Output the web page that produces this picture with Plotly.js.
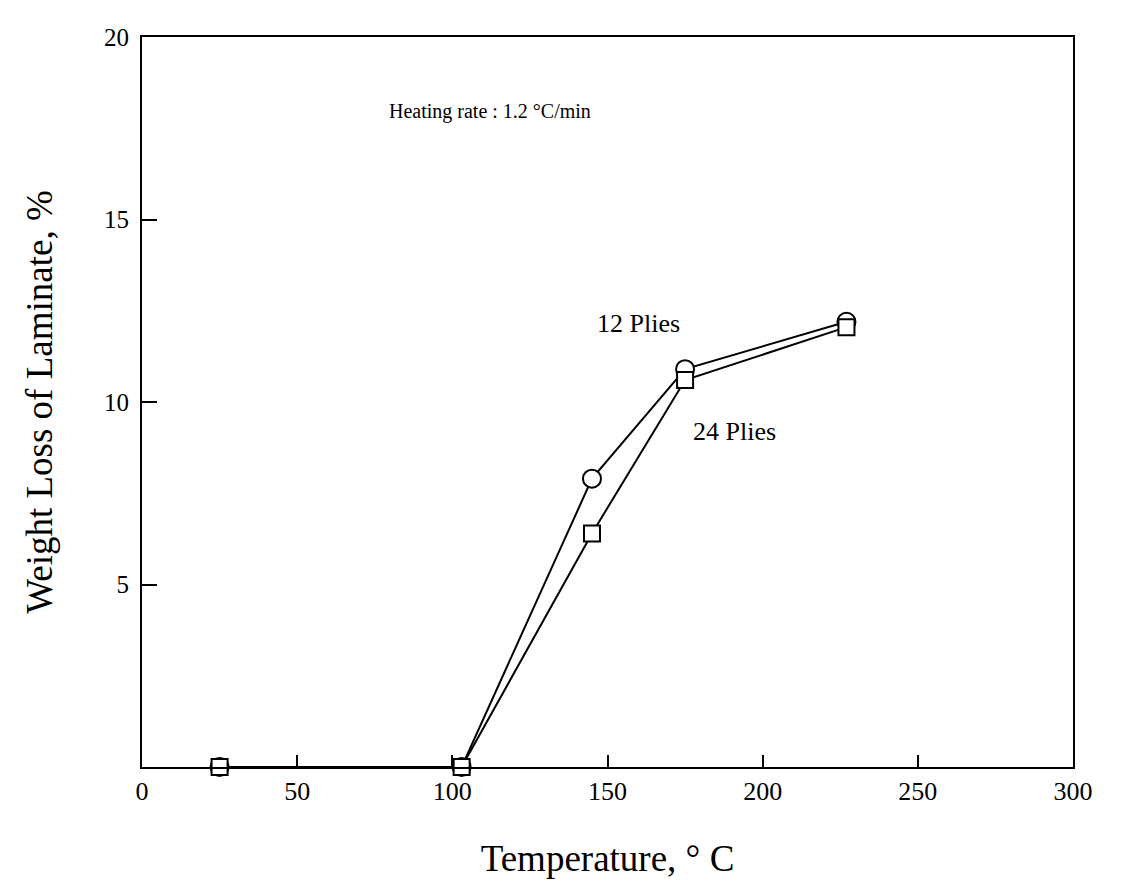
<!DOCTYPE html>
<html>
<head>
<meta charset="utf-8">
<script src="https://cdn.plot.ly/plotly-3.0.1.min.js"></script>
<style>html,body{margin:0;padding:0;background:#fff;}#chart{width:1121px;height:886px;}</style>
</head>
<body>
<div id="chart"></div>
<script>
// Data
const temperature = [25, 103, 145, 175, 227];
const plies12 = [0, 0, 7.9, 10.9, 12.2];
const plies24 = [0, 0, 6.4, 10.6, 12.05];
const xTicks = [0, 50, 100, 150, 200, 250, 300];
const yTicks = [5, 10, 15, 20];

const font = 'Liberation Serif, Times New Roman, serif';

const traces = [
  {
    x: temperature, y: plies12, mode: 'lines+markers', name: '12 Plies',
    line: {color: '#000', width: 2},
    marker: {symbol: 'circle', size: 18, color: '#fff', line: {color: '#000', width: 2}},
    cliponaxis: false
  },
  {
    x: temperature, y: plies24, mode: 'lines+markers', name: '24 Plies',
    line: {color: '#000', width: 2},
    marker: {symbol: 'square', size: 16, color: '#fff', line: {color: '#000', width: 2}},
    cliponaxis: false
  }
];

const layout = {
  width: 1121, height: 886,
  margin: {l: 142, r: 48, t: 37, b: 119},
  paper_bgcolor: '#fff', plot_bgcolor: '#fff',
  showlegend: false,
  font: {family: font, color: '#000', size: 20},
  xaxis: {
    range: [0, 300], tickvals: xTicks, ticktext: xTicks.map(String),
    ticks: 'inside', ticklen: 12, tickwidth: 2, tickcolor: '#000',
    showline: true, linecolor: '#000', linewidth: 2, mirror: true,
    showgrid: false, zeroline: false,
    tickfont: {family: font, size: 26},
    title: {text: 'Temperature, ° C', font: {family: font, size: 37}, standoff: 40}
  },
  yaxis: {
    range: [0, 20], tickvals: yTicks, ticktext: yTicks.map(String),
    ticks: 'inside', ticklen: 15, tickwidth: 2, tickcolor: '#000',
    showline: true, linecolor: '#000', linewidth: 2, mirror: true,
    showgrid: false, zeroline: false,
    ticklabelstandoff: 6,
    tickfont: {family: font, size: 25},
    title: {text: 'Weight Loss of Laminate, %', font: {family: font, size: 37}, standoff: 40}
  },
  annotations: [
    {x: 112, y: 17.95, xref: 'x', yref: 'y', text: 'Heating rate : 1.2 °C/min', showarrow: false, font: {family: font, size: 20}},
    {x: 160, y: 12.16, xref: 'x', yref: 'y', text: '12 Plies', showarrow: false, font: {family: font, size: 26}},
    {x: 190.8, y: 9.18, xref: 'x', yref: 'y', text: '24 Plies', showarrow: false, font: {family: font, size: 26}}
  ]
};

Plotly.newPlot('chart', traces, layout, {displayModeBar: false, staticPlot: true});
</script>
</body>
</html>
